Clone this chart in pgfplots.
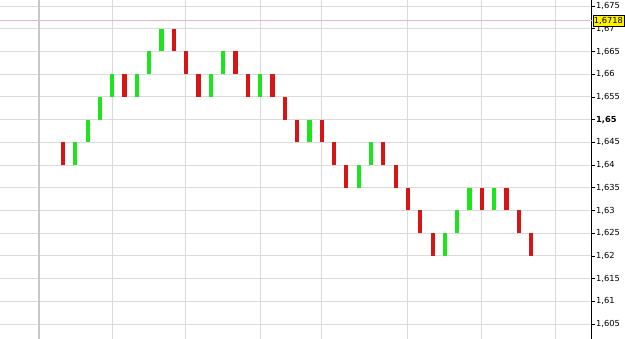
\documentclass[border=0pt]{standalone}
\usepackage{pgfplots}
\pgfplotsset{compat=1.18}
\usepackage{fontspec}
\setmainfont{DejaVu Sans}
\definecolor{barred}{RGB}{214,22,22}
\definecolor{bargreen}{RGB}{30,228,30}
\definecolor{gridgray}{RGB}{218,218,218}
\definecolor{pinkline}{RGB}{238,180,190}
\begin{document}
\begin{tikzpicture}
\begin{axis}[
  at={(0,0)}, anchor=south west,
  scale only axis, width=591.7pt, height=339pt,
  xmin=-5.11, xmax=42.91,
  ymin=1.60170, ymax=1.67632,
  axis x line*=bottom, x axis line style={draw=none},
  axis y line*=right,
  y axis line style={draw=black, line width=0.8pt},
  xtick={3.98,9.98,16.05,21.0,27.92,33.98,39.99},
  xticklabels={},
  major x tick style={draw=none},
  extra x ticks={-1.95}, extra x tick labels={},
  extra x tick style={major grid style={color=black!22, line width=1.7pt}, major tick style={draw=none}},
  ytick={1.605,1.61,1.615,1.62,1.625,1.63,1.635,1.64,1.645,1.65,1.655,1.66,1.665,1.67,1.675},
  yticklabels={{1,605},{1,61},{1,615},{1,62},{1,625},{1,63},{1,635},{1,64},{1,645},{\bfseries 1,65},{1,655},{1,66},{1,665},{1,67},{1,675}},
  yticklabel style={font=\fontsize{8.3}{9}\selectfont, inner sep=0.8pt, xshift=0.5pt},
  major y tick style={draw=black, line width=0.6pt},
  tick align=outside, major tick length=3pt,
  grid=major,
  major grid style={color=gridgray, line width=0.9pt},
  unbounded coords=jump,
  clip=false,
]
\addplot[pinkline, line width=1pt, forget plot] coordinates {(-5.11,1.6718) (42.91,1.6718)};
% red bricks
\addplot[barred, line width=4.2pt, mark=none] coordinates {
(0,1.640) (0,1.645) (0,nan)
(5,1.655) (5,1.660) (5,nan)
(9,1.665) (9,1.670) (9,nan)
(10,1.660) (10,1.665) (10,nan)
(11,1.655) (11,1.660) (11,nan)
(14,1.660) (14,1.665) (14,nan)
(15,1.655) (15,1.660) (15,nan)
(17,1.655) (17,1.660) (17,nan)
(18,1.650) (18,1.655) (18,nan)
(19,1.645) (19,1.650) (19,nan)
(21,1.645) (21,1.650) (21,nan)
(22,1.640) (22,1.645) (22,nan)
(23,1.635) (23,1.640) (23,nan)
(26,1.640) (26,1.645) (26,nan)
(27,1.635) (27,1.640) (27,nan)
(28,1.630) (28,1.635) (28,nan)
(29,1.625) (29,1.630) (29,nan)
(30,1.620) (30,1.625) (30,nan)
(34,1.630) (34,1.635) (34,nan)
(36,1.630) (36,1.635) (36,nan)
(37,1.625) (37,1.630) (37,nan)
(38,1.620) (38,1.625)
};
% green bricks
\addplot[bargreen, line width=4.2pt, mark=none] coordinates {
(1,1.640) (1,1.645) (1,nan)
(2,1.645) (2,1.650) (2,nan)
(3,1.650) (3,1.655) (3,nan)
(4,1.655) (4,1.660) (4,nan)
(6,1.655) (6,1.660) (6,nan)
(7,1.660) (7,1.665) (7,nan)
(8,1.665) (8,1.670) (8,nan)
(12,1.655) (12,1.660) (12,nan)
(13,1.660) (13,1.665) (13,nan)
(16,1.655) (16,1.660) (16,nan)
(20,1.645) (20,1.650) (20,nan)
(24,1.635) (24,1.640) (24,nan)
(25,1.640) (25,1.645) (25,nan)
(31,1.620) (31,1.625) (31,nan)
(32,1.625) (32,1.630) (32,nan)
(33,1.630) (33,1.635) (33,nan)
(35,1.630) (35,1.635)
};
\node[fill=yellow, draw=black, line width=0.5pt, inner sep=1pt, anchor=west,
  font=\fontsize{8.3}{9}\selectfont, minimum height=11.5pt, xshift=1pt] at (axis cs:42.91,1.6718) {1,6718};
\end{axis}
\pgfresetboundingbox
\path[use as bounding box] (0,0) rectangle (625pt,339pt);
\end{tikzpicture}
\end{document}
